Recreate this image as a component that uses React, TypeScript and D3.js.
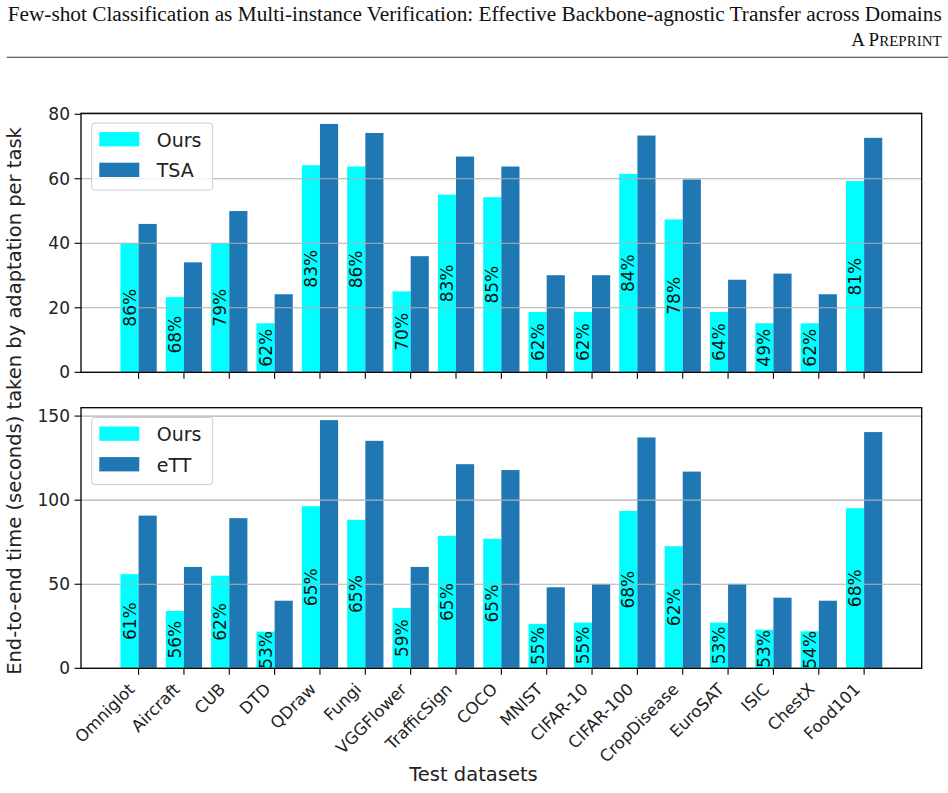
import * as d3 from "d3";

// Datasets on the x axis
const categories = [
  "Omniglot", "Aircraft", "CUB", "DTD", "QDraw", "Fungi", "VGGFlower",
  "TrafficSign", "COCO", "MNIST", "CIFAR-10", "CIFAR-100", "CropDisease",
  "EuroSAT", "ISIC", "ChestX", "Food101",
];

// Top panel: Ours vs TSA (seconds)
const oursTop = [40, 23.3, 40, 15.2, 64.2, 63.8, 25.1, 55.1, 54.3, 18.7, 18.7, 61.5, 47.4, 18.7, 15.2, 15.2, 59.3];
const tsaTop = [46, 34.1, 50, 24.2, 77, 74.2, 36, 66.9, 63.8, 30.1, 30.1, 73.4, 59.8, 28.7, 30.6, 24.2, 72.7];
const pctTop = [86, 68, 79, 62, 83, 86, 70, 83, 85, 62, 62, 84, 78, 64, 49, 62, 81];
const ticksTop = [0, 20, 40, 60, 80];

// Bottom panel: Ours vs eTT (seconds)
const oursBottom = [56, 34.1, 55.1, 21.8, 96.4, 88.3, 35.9, 78.8, 77, 26.4, 27.2, 93.6, 72.6, 27.2, 23, 22, 95.2];
const ettBottom = [90.8, 60.3, 89.3, 40.2, 147.6, 135.3, 60.3, 121.4, 117.9, 48.2, 50.2, 137.3, 117, 50.2, 42, 40.2, 140.5];
const pctBottom = [61, 56, 62, 53, 65, 65, 59, 65, 65, 55, 55, 68, 62, 53, 53, 54, 68];
const ticksBottom = [0, 50, 100, 150];

const CYAN = "#00ffff";
const BLUE = "#1f77b4";
const FONT = "DejaVu Sans, sans-serif";

const width = 948;
const height = 793;
const axLeft = 81;
const axRight = 921.7;
const barW = 0.4;

const x = d3.scaleLinear().domain([-1.27, 17.27]).range([axLeft, axRight]);

type PanelProps = {
  top: number;
  bottom: number;
  yMax: number;
  ticks: number[];
  ours: number[];
  other: number[];
  pct: number[];
  otherName: string;
  showLabels: boolean;
};

const Panel = ({ top, bottom, yMax, ticks, ours, other, pct, otherName, showLabels }: PanelProps) => {
  const y = d3.scaleLinear().domain([0, yMax]).range([bottom, top]);
  const bw = x(barW) - x(0);
  return (
    <g>
      {/* bars */}
      {categories.map((c, i) => (
        <g key={c}>
          <rect x={x(i - barW)} y={y(ours[i])} width={bw} height={y(0) - y(ours[i])} fill={CYAN} />
          <rect x={x(i)} y={y(other[i])} width={bw} height={y(0) - y(other[i])} fill={BLUE} />
        </g>
      ))}
      {/* grid */}
      {ticks.map((t) => (
        <line key={t} x1={axLeft} x2={axRight} y1={y(t)} y2={y(t)} stroke="#b0b0b0" strokeWidth={1.1} />
      ))}
      {/* percent labels */}
      {categories.map((c, i) => {
        const cx = x(i - barW / 2);
        const cy = y(ours[i] / 2);
        return (
          <text
            key={`p-${c}`}
            transform={`translate(${cx},${cy}) rotate(-90)`}
            textAnchor="middle"
            dominantBaseline="central"
            fontSize={17}
            fontFamily={FONT}
            fill="#111"
          >
            {pct[i]}%
          </text>
        );
      })}
      {/* frame */}
      <rect x={axLeft} y={top} width={axRight - axLeft} height={bottom - top} fill="none" stroke="#000" strokeWidth={1.3} />
      {/* y ticks */}
      {ticks.map((t) => (
        <g key={`yt-${t}`}>
          <line x1={axLeft - 6.5} x2={axLeft} y1={y(t)} y2={y(t)} stroke="#000" strokeWidth={1.1} />
          <text x={axLeft - 11} y={y(t)} textAnchor="end" dominantBaseline="central" fontSize={17} fontFamily={FONT} fill="#222">
            {t}
          </text>
        </g>
      ))}
      {/* x ticks */}
      {categories.map((c, i) => (
        <g key={`xt-${c}`}>
          <line x1={x(i)} x2={x(i)} y1={bottom} y2={bottom + 6.5} stroke="#000" strokeWidth={1.1} />
          {showLabels && (
            <text
              transform={`translate(${x(i) - 3},${bottom + 22}) rotate(-45)`}
              textAnchor="end"
              fontSize={16.5}
              fontFamily={FONT}
              fill="#222"
            >
              {c}
            </text>
          )}
        </g>
      ))}
      {/* legend */}
      <g transform={`translate(${axLeft + 10.7},${top + 9.8})`}>
        <rect x={0} y={0} width={121} height={67} rx={3} fill="#fff" fillOpacity={0.8} stroke="#cccccc" strokeWidth={1} />
        {[
          { name: "Ours", color: CYAN },
          { name: otherName, color: BLUE },
        ].map((d, k) => (
          <g key={d.name} transform={`translate(0,${9 + k * 30.6})`}>
            <rect x={7.6} y={0} width={40} height={14.3} fill={d.color} />
            <text x={65} y={7.5} dominantBaseline="central" fontSize={19} fontFamily={FONT} fill="#222">
              {d.name}
            </text>
          </g>
        ))}
      </g>
    </g>
  );
};

export default function App() {
  return (
    <svg
      width={width}
      height={height}
      viewBox={`0 0 ${width} ${height}`}
      style={{ position: "absolute", left: 0, top: 0, background: "#fff" }}
    >
      <rect width={width} height={height} fill="#fff" />
      {/* page header */}
      <text x={941.7} y={20.7} textAnchor="end" fontSize={20} fontFamily="Liberation Serif, Times New Roman, serif" fill="#111" textLength={934} lengthAdjust="spacingAndGlyphs">
        Few-shot Classification as Multi-instance Verification: Effective Backbone-agnostic Transfer across Domains
      </text>
      <text x={941.7} y={46} textAnchor="end" fontFamily="Liberation Serif, Times New Roman, serif" fill="#111">
        <tspan fontSize={19}>A P</tspan>
        <tspan fontSize={15}>REPRINT</tspan>
      </text>
      <line x1={6.7} x2={948} y1={57.3} y2={57.3} stroke="#333" strokeWidth={1.1} />

      <Panel top={113.3} bottom={372.3} yMax={80.3} ticks={ticksTop} ours={oursTop} other={tsaTop} pct={pctTop} otherName="TSA" showLabels={false} />
      <Panel top={407.7} bottom={668.3} yMax={155} ticks={ticksBottom} ours={oursBottom} other={ettBottom} pct={pctBottom} otherName="eTT" showLabels={true} />

      {/* axis titles */}
      <text transform="translate(21,401) rotate(-90)" textAnchor="middle" fontSize={19.5} fontFamily={FONT} fill="#222">
        End-to-end time (seconds) taken by adaptation per task
      </text>
      <text x={473.5} y={781} textAnchor="middle" fontSize={19.5} fontFamily={FONT} fill="#222">
        Test datasets
      </text>
    </svg>
  );
}
